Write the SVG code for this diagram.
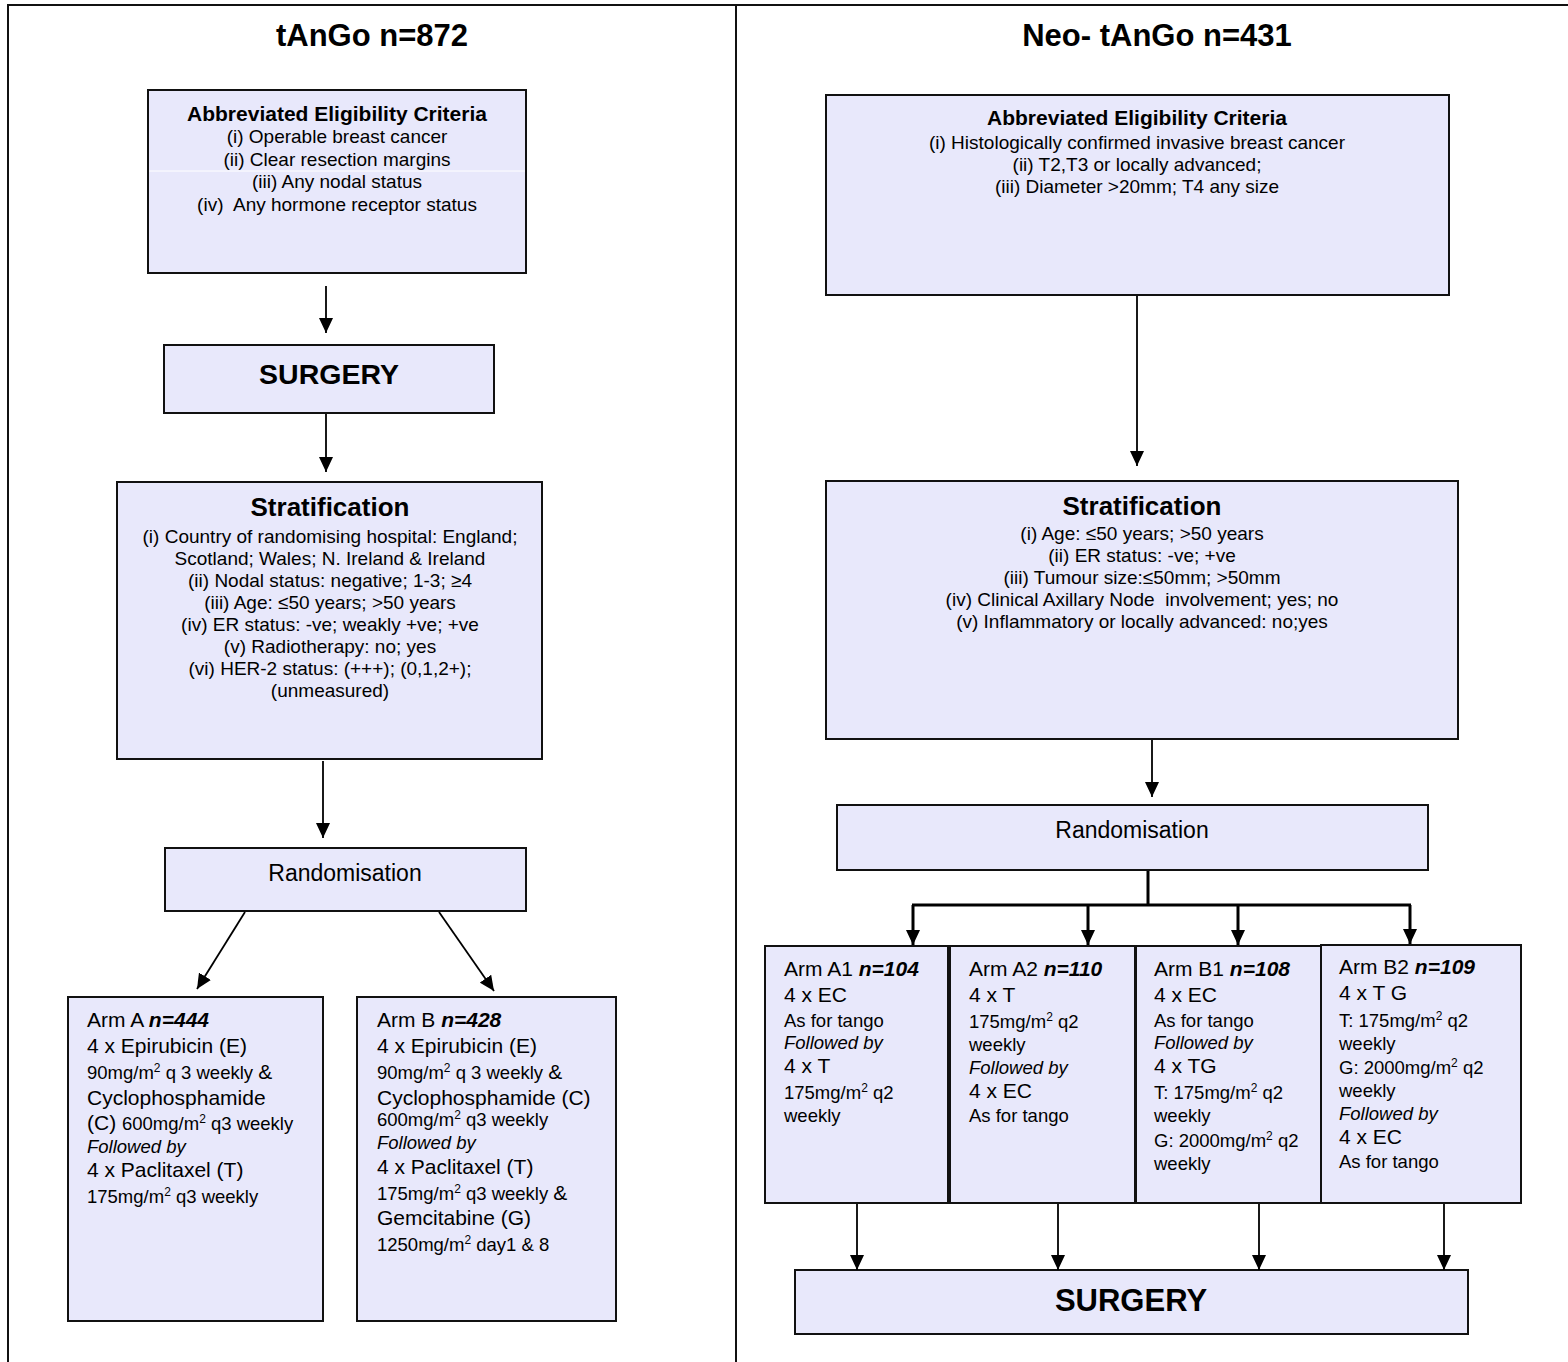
<svg xmlns="http://www.w3.org/2000/svg" width="1568" height="1362" viewBox="0 0 1568 1362">
<style>
  text { font-family: "Liberation Sans", Arial, sans-serif; fill: #000; }
  .box { fill: #E8E8FB; stroke: #111; stroke-width: 2; }
  .frame { stroke: #111; stroke-width: 2; fill: none; }
  .c { text-anchor: middle; }
  .title { font-size: 31px; font-weight: bold; }
  .h { font-size: 21px; font-weight: bold; }
  .l { font-size: 19px; }
  .st { font-size: 26px; font-weight: bold; }
  .rand { font-size: 23px; }
  .surg { font-weight: bold; }
  .big { font-size: 21px; }
  .sm { font-size: 18.5px; }
  .n { font-weight: bold; font-style: italic; }
  .it { font-style: italic; }
  .sup { font-size: 12px; }
  .conn line, .conn path { stroke: #000; stroke-width: 1.8; fill: none; }
  .conn .thick { stroke-width: 3; }
</style>
<defs>
  <marker id="ah" markerUnits="userSpaceOnUse" viewBox="0 0 15 14" markerWidth="15" markerHeight="14" refX="15" refY="7" orient="auto">
    <path d="M0,0 L15,7 L0,14 z" fill="#000"/>
  </marker>
</defs>
<rect width="1568" height="1362" fill="#fff"/>

<g id="frame">
  <line class="frame" x1="7" y1="5" x2="1568" y2="5"/>
  <line class="frame" x1="8" y1="5" x2="8" y2="1362"/>
  <line class="frame" x1="736" y1="5" x2="736" y2="1362"/>
</g>

<g id="title-left"><text class="title c" x="372" y="46">tAnGo n=872</text></g>
<g id="title-right"><text class="title c" x="1157" y="46">Neo- tAnGo n=431</text></g>

<!-- LEFT -->
<g id="elig-left">
  <rect class="box" x="148" y="90" width="378" height="183"/>
  <line x1="149" y1="171" x2="525" y2="171" stroke="#fff" stroke-width="1"/>
  <text class="h c" x="337" y="121">Abbreviated Eligibility Criteria</text>
  <text class="l c" x="337" y="143">(i) Operable breast cancer</text>
  <text class="l c" x="337" y="166">(ii) Clear resection margins</text>
  <text class="l c" x="337" y="188">(iii) Any nodal status</text>
  <text class="l c" x="337" y="211" xml:space="preserve">(iv)  Any hormone receptor status</text>
</g>

<g id="surgery-left">
  <rect class="box" x="164" y="345" width="330" height="68"/>
  <text class="surg c" x="329" y="384" font-size="28.5">SURGERY</text>
</g>

<g id="strat-left">
  <rect class="box" x="117" y="482" width="425" height="277"/>
  <text class="st c" x="330" y="516">Stratification</text>
  <text class="l c" x="330" y="543">(i) Country of randomising hospital: England;</text>
  <text class="l c" x="330" y="565">Scotland; Wales; N. Ireland &amp; Ireland</text>
  <text class="l c" x="330" y="587">(ii) Nodal status: negative; 1-3; ≥4</text>
  <text class="l c" x="330" y="609">(iii) Age: ≤50 years; &gt;50 years</text>
  <text class="l c" x="330" y="631">(iv) ER status: -ve; weakly +ve; +ve</text>
  <text class="l c" x="330" y="653">(v) Radiotherapy: no; yes</text>
  <text class="l c" x="330" y="675">(vi) HER-2 status: (+++); (0,1,2+);</text>
  <text class="l c" x="330" y="697">(unmeasured)</text>
</g>

<g id="rand-left">
  <rect class="box" x="165" y="848" width="361" height="63"/>
  <text class="rand c" x="345" y="881">Randomisation</text>
</g>

<g id="armA">
  <rect class="box" x="68" y="997" width="255" height="324"/>
  <text class="big" x="87" y="1027">Arm A <tspan class="n">n=444</tspan></text>
  <text class="big" x="87" y="1053">4 x Epirubicin (E)</text>
  <text class="sm" x="87" y="1079">90mg/m<tspan class="sup" dy="-7">2</tspan><tspan dy="7"> q 3 weekly </tspan><tspan class="big">&amp;</tspan></text>
  <text class="big" x="87" y="1105">Cyclophosphamide</text>
  <text class="big" x="87" y="1130">(C) <tspan class="sm">600mg/m</tspan><tspan class="sup" dy="-7">2</tspan><tspan class="sm" dy="7"> q3 weekly</tspan></text>
  <text class="sm it" x="87" y="1153">Followed by</text>
  <text class="big" x="87" y="1177">4 x Paclitaxel (T)</text>
  <text class="sm" x="87" y="1203">175mg/m<tspan class="sup" dy="-7">2</tspan><tspan dy="7"> q3 weekly</tspan></text>
</g>

<g id="armB">
  <rect class="box" x="357" y="997" width="259" height="324"/>
  <text class="big" x="377" y="1027">Arm B <tspan class="n">n=428</tspan></text>
  <text class="big" x="377" y="1053">4 x Epirubicin (E)</text>
  <text class="sm" x="377" y="1079">90mg/m<tspan class="sup" dy="-7">2</tspan><tspan dy="7"> q 3 weekly </tspan><tspan class="big">&amp;</tspan></text>
  <text class="big" x="377" y="1105">Cyclophosphamide (C)</text>
  <text class="sm" x="377" y="1126">600mg/m<tspan class="sup" dy="-7">2</tspan><tspan dy="7"> q3 weekly</tspan></text>
  <text class="sm it" x="377" y="1149">Followed by</text>
  <text class="big" x="377" y="1174">4 x Paclitaxel (T)</text>
  <text class="sm" x="377" y="1200">175mg/m<tspan class="sup" dy="-7">2</tspan><tspan dy="7"> q3 weekly </tspan><tspan class="big">&amp;</tspan></text>
  <text class="big" x="377" y="1225">Gemcitabine (G)</text>
  <text class="sm" x="377" y="1251">1250mg/m<tspan class="sup" dy="-7">2</tspan><tspan dy="7"> day1 &amp; 8</tspan></text>
</g>

<!-- RIGHT -->
<g id="elig-right">
  <rect class="box" x="826" y="95" width="623" height="200"/>
  <text class="h c" x="1137" y="125">Abbreviated Eligibility Criteria</text>
  <text class="l c" x="1137" y="149">(i) Histologically confirmed invasive breast cancer</text>
  <text class="l c" x="1137" y="171">(ii) T2,T3 or locally advanced;</text>
  <text class="l c" x="1137" y="193">(iii) Diameter &gt;20mm; T4 any size</text>
</g>

<g id="strat-right">
  <rect class="box" x="826" y="481" width="632" height="258"/>
  <text class="st c" x="1142" y="515">Stratification</text>
  <text class="l c" x="1142" y="540">(i) Age: ≤50 years; &gt;50 years</text>
  <text class="l c" x="1142" y="562">(ii) ER status: -ve; +ve</text>
  <text class="l c" x="1142" y="584">(iii) Tumour size:≤50mm; &gt;50mm</text>
  <text class="l c" x="1142" y="606" xml:space="preserve">(iv) Clinical Axillary Node  involvement; yes; no</text>
  <text class="l c" x="1142" y="628">(v) Inflammatory or locally advanced: no;yes</text>
</g>

<g id="rand-right">
  <rect class="box" x="837" y="805" width="591" height="65"/>
  <text class="rand c" x="1132" y="838">Randomisation</text>
</g>

<g id="armA1">
  <rect class="box" x="765" y="946" width="183" height="257"/>
  <text class="big" x="784" y="976">Arm A1 <tspan class="n">n=104</tspan></text>
  <text class="big" x="784" y="1002">4 x EC</text>
  <text class="sm" x="784" y="1027">As for tango</text>
  <text class="sm it" x="784" y="1049">Followed by</text>
  <text class="big" x="784" y="1073">4 x T</text>
  <text class="sm" x="784" y="1099">175mg/m<tspan class="sup" dy="-7">2</tspan><tspan dy="7"> q2</tspan></text>
  <text class="sm" x="784" y="1122">weekly</text>
</g>

<g id="armA2">
  <rect class="box" x="950" y="946" width="185" height="257"/>
  <text class="big" x="969" y="976">Arm A2 <tspan class="n">n=110</tspan></text>
  <text class="big" x="969" y="1002">4 x T</text>
  <text class="sm" x="969" y="1028">175mg/m<tspan class="sup" dy="-7">2</tspan><tspan dy="7"> q2</tspan></text>
  <text class="sm" x="969" y="1051">weekly</text>
  <text class="sm it" x="969" y="1074">Followed by</text>
  <text class="big" x="969" y="1098">4 x EC</text>
  <text class="sm" x="969" y="1122">As for tango</text>
</g>

<g id="armB1">
  <rect class="box" x="1136" y="946" width="185" height="257"/>
  <text class="big" x="1154" y="976">Arm B1 <tspan class="n">n=108</tspan></text>
  <text class="big" x="1154" y="1002">4 x EC</text>
  <text class="sm" x="1154" y="1027">As for tango</text>
  <text class="sm it" x="1154" y="1049">Followed by</text>
  <text class="big" x="1154" y="1073">4 x TG</text>
  <text class="sm" x="1154" y="1099">T: 175mg/m<tspan class="sup" dy="-7">2</tspan><tspan dy="7"> q2</tspan></text>
  <text class="sm" x="1154" y="1122">weekly</text>
  <text class="sm" x="1154" y="1147">G: 2000mg/m<tspan class="sup" dy="-7">2</tspan><tspan dy="7"> q2</tspan></text>
  <text class="sm" x="1154" y="1170">weekly</text>
</g>

<g id="armB2">
  <rect class="box" x="1321" y="945" width="200" height="258"/>
  <text class="big" x="1339" y="974">Arm B2 <tspan class="n">n=109</tspan></text>
  <text class="big" x="1339" y="1000">4 x T G</text>
  <text class="sm" x="1339" y="1027">T: 175mg/m<tspan class="sup" dy="-7">2</tspan><tspan dy="7"> q2</tspan></text>
  <text class="sm" x="1339" y="1050">weekly</text>
  <text class="sm" x="1339" y="1074">G: 2000mg/m<tspan class="sup" dy="-7">2</tspan><tspan dy="7"> q2</tspan></text>
  <text class="sm" x="1339" y="1097">weekly</text>
  <text class="sm it" x="1339" y="1120">Followed by</text>
  <text class="big" x="1339" y="1144">4 x EC</text>
  <text class="sm" x="1339" y="1168">As for tango</text>
</g>

<g id="surgery-right">
  <rect class="box" x="795" y="1270" width="673" height="64"/>
  <text class="surg c" x="1131" y="1311" font-size="31">SURGERY</text>
</g>

<g id="connectors" class="conn">
  <line x1="326" y1="286" x2="326" y2="333" marker-end="url(#ah)"/>
  <line x1="326" y1="414" x2="326" y2="472" marker-end="url(#ah)"/>
  <line x1="323" y1="761" x2="323" y2="838" marker-end="url(#ah)"/>
  <line x1="245" y1="912" x2="197" y2="989" marker-end="url(#ah)"/>
  <line x1="439" y1="912" x2="494" y2="991" marker-end="url(#ah)"/>

  <line x1="1137" y1="296" x2="1137" y2="466" marker-end="url(#ah)"/>
  <line x1="1152" y1="740" x2="1152" y2="797" marker-end="url(#ah)"/>
  <line class="thick" x1="1148" y1="871" x2="1148" y2="905"/>
  <line class="thick" x1="912" y1="905" x2="1411" y2="905"/>
  <line class="thick" x1="913" y1="905" x2="913" y2="945" marker-end="url(#ah)"/>
  <line class="thick" x1="1088" y1="905" x2="1088" y2="945" marker-end="url(#ah)"/>
  <line class="thick" x1="1238" y1="905" x2="1238" y2="945" marker-end="url(#ah)"/>
  <line class="thick" x1="1410" y1="905" x2="1410" y2="944" marker-end="url(#ah)"/>

  <line x1="857" y1="1204" x2="857" y2="1270" marker-end="url(#ah)"/>
  <line x1="1058" y1="1204" x2="1058" y2="1270" marker-end="url(#ah)"/>
  <line x1="1259" y1="1204" x2="1259" y2="1270" marker-end="url(#ah)"/>
  <line x1="1444" y1="1204" x2="1444" y2="1270" marker-end="url(#ah)"/>
</g>
</svg>
